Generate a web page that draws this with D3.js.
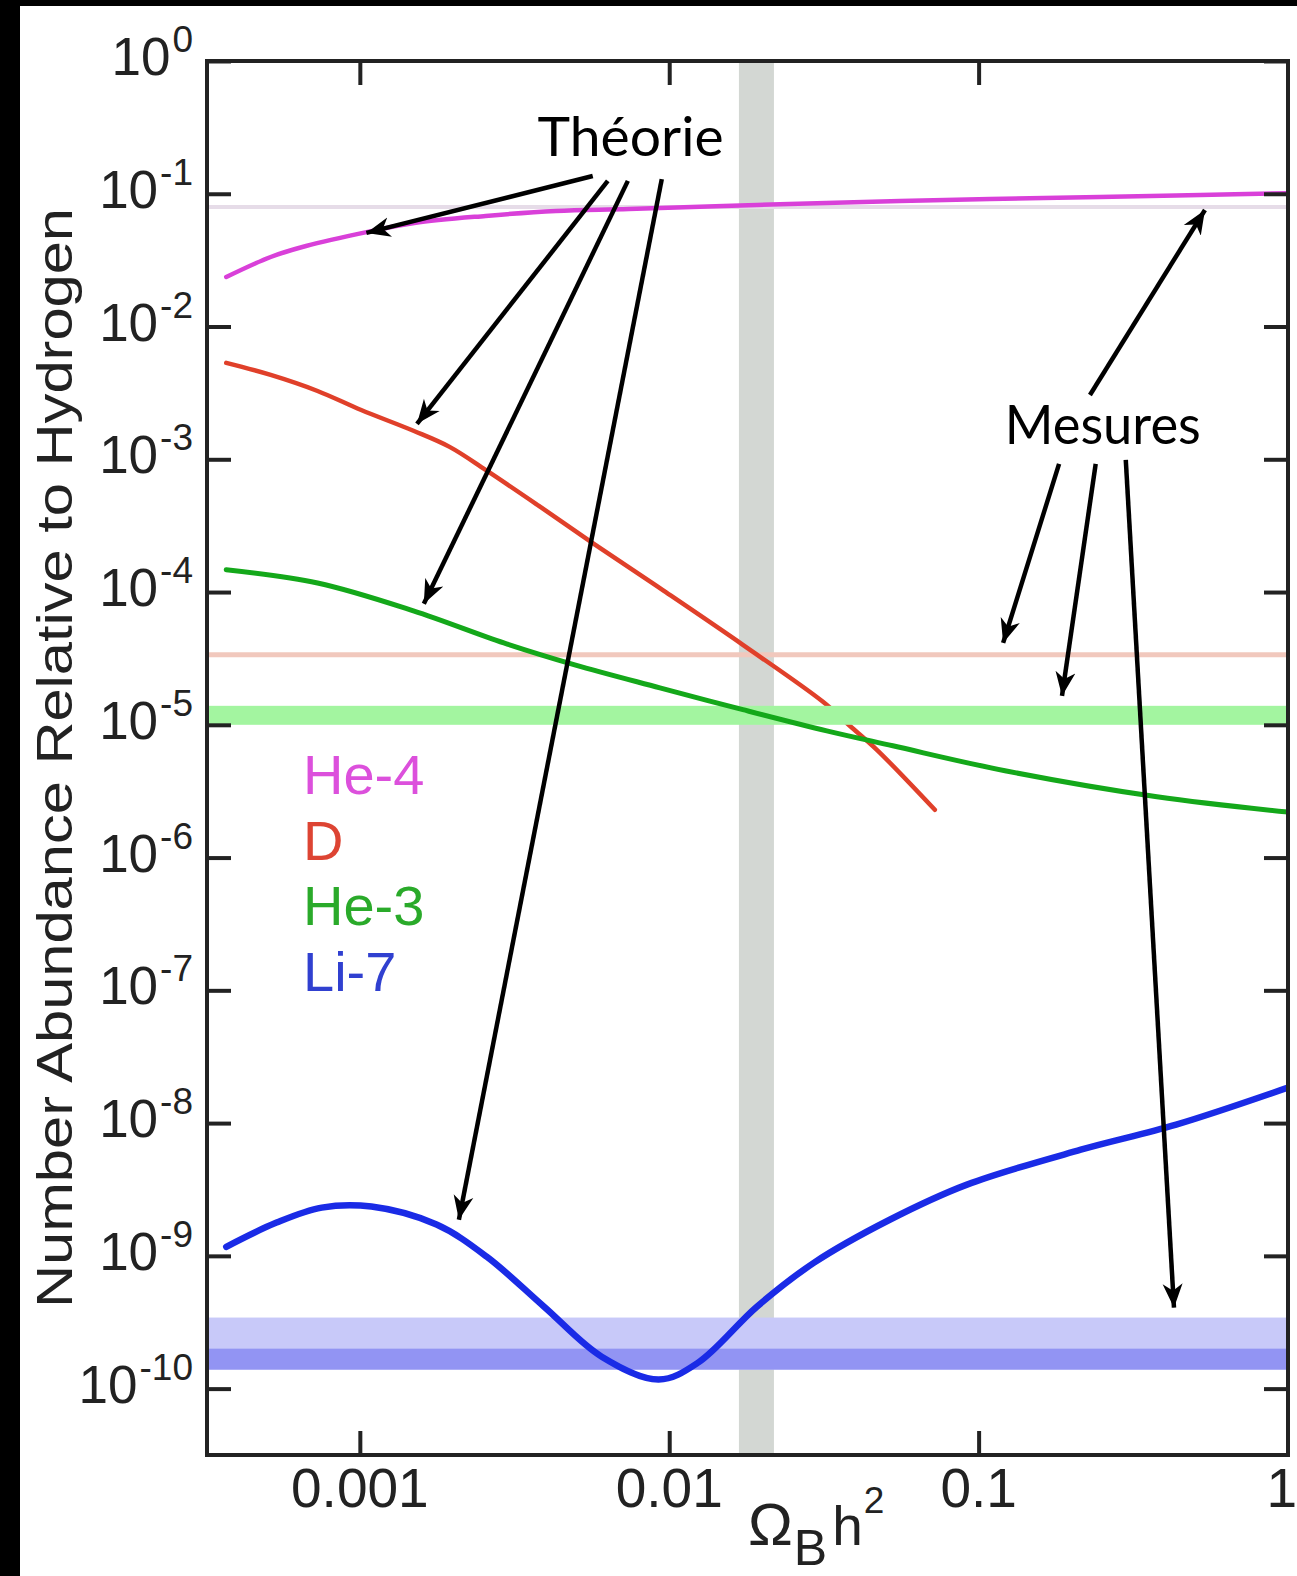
<!DOCTYPE html>
<html>
<head>
<meta charset="utf-8">
<script src="https://cdn.jsdelivr.net/npm/d3@7"></script>
<style>
  html, body { margin: 0; padding: 0; background: #000; }
  svg { display: block; }
</style>
</head>
<body>
<svg id="chart" width="1297" height="1576"></svg>
<script>
// ---------- DATA ----------
const he4X = [3.7e-4, 5.15e-4, 6.7e-4, 1.06e-3, 1.5e-3, 2.55e-3, 4.3e-3, 7.4e-3, 0.0192, 0.0557, 0.246, 0.52, 1.0];
const he4Y = [0.0236, 0.0334, 0.0404, 0.0516, 0.0603, 0.0681, 0.0742, 0.0768, 0.0823, 0.0883, 0.0946, 0.098, 0.101];

const dX = [3.7e-4, 5.15e-4, 7.3e-4, 1.01e-3, 1.49e-3, 1.95e-3, 2.55e-3, 3.79e-3, 5.66e-3, 9.61e-3, 0.0173, 0.0314, 0.0384, 0.0469, 0.0722];
const dY = [5.32e-3, 4.32e-3, 3.27e-3, 2.35e-3, 1.64e-3, 1.24e-3, 8.32e-4, 4.46e-4, 2.34e-4, 1.02e-4, 4.0e-5, 1.49e-5, 9.8e-6, 6.48e-6, 2.29e-6];

const he3X = [3.7e-4, 7.3e-4, 1.49e-3, 2.92e-3, 4.95e-3, 9.33e-3, 0.0173, 0.0323, 0.0528, 0.1217, 0.377, 1.0];
const he3Y = [1.47e-4, 1.17e-4, 7.22e-5, 4.14e-5, 2.83e-5, 1.90e-5, 1.30e-5, 9.0e-6, 6.95e-6, 4.51e-6, 2.87e-6, 2.2e-6];

const li7X = [3.7e-4, 5.38e-4, 7.53e-4, 1.09e-3, 1.77e-3, 2.57e-3, 3.94e-3, 6.05e-3, 9.25e-3, 0.0124, 0.0192, 0.0294, 0.0516, 0.0917, 0.214, 0.435, 1.0];
const li7Y = [1.17e-9, 1.78e-9, 2.31e-9, 2.35e-9, 1.72e-9, 9.86e-10, 4.14e-10, 1.74e-10, 1.17e-10, 1.57e-10, 4.14e-10, 8.89e-10, 1.87e-9, 3.44e-9, 6.3e-9, 9.73e-9, 1.85e-8];

// measured values (horizontal lines / bands)
const he4Measured = 0.0796;
const dMeasured = 3.37e-5;
const he3Band = [1.0e-5, 1.39e-5];
const li7BandWide = [1.39e-10, 3.43e-10];
const li7BandNarrow = [1.39e-10, 2.0e-10];
// baryon density band (Omega_B h^2)
const omegaBand = [0.0168, 0.0218];

// ticks
const xTicks = [0.001, 0.01, 0.1, 1];
const xTickLabels = ["0.001", "0.01", "0.1", "1"];
const yTickExp = [0, -1, -2, -3, -4, -5, -6, -7, -8, -9, -10];

const legendNames = ["He-4", "D", "He-3", "Li-7"];

// annotations (data coordinates)
const theorieLabel = { text: "Théorie", x: 7.5e-3, y: 0.193 };
const theorieArrows = [
  { x0: 5.66e-3, y0: 0.136, x1: 1.05e-3, y1: 0.0507 },
  { x0: 6.33e-3, y0: 0.125, x1: 1.53e-3, y1: 1.85e-3 },
  { x0: 7.35e-3, y0: 0.125, x1: 1.61e-3, y1: 8.15e-5 },
  { x0: 9.46e-3, y0: 0.129, x1: 2.09e-3, y1: 1.87e-9 }
];
const mesuresLabel = { text: "Mesures", x: 0.252, y: 1.31e-3 };
const mesuresArrows = [
  { x0: 0.229, y0: 3.05e-3, x1: 0.539, y1: 0.0755 },
  { x0: 0.182, y0: 9.23e-4, x1: 0.12, y1: 4.14e-5 },
  { x0: 0.239, y0: 9.23e-4, x1: 0.186, y1: 1.65e-5 },
  { x0: 0.299, y0: 9.89e-4, x1: 0.428, y1: 4.07e-10 }
];

// ---------- STYLE ----------
const colors = { he4: "#d940d9", d: "#e0402a", he3: "#14a81a", li7: "#1a2be6" };
const legendColors = ["#dc50dc", "#dd4433", "#2aaa2a", "#3040d0"];

const W = 1297, H = 1576;
const plot = { left: 207, right: 1288, top: 61, bottom: 1455 };

const svg = d3.select("#chart");

// background: black strip left/top, white rest
svg.append("rect").attr("x", 0).attr("y", 0).attr("width", W).attr("height", H).attr("fill", "#000");
svg.append("rect").attr("x", 20).attr("y", 6).attr("width", W - 20).attr("height", H - 6).attr("fill", "#fff");

const x = d3.scaleLog().domain([Math.pow(10, -3.494), 1]).range([plot.left, plot.right]);
const y = d3.scaleLog().domain([Math.pow(10, -10.5), 1]).range([plot.bottom, plot.top]);

const g = svg.append("g");
const clip = svg.append("clipPath").attr("id", "plotclip");
clip.append("rect").attr("x", plot.left).attr("y", plot.top)
  .attr("width", plot.right - plot.left).attr("height", plot.bottom - plot.top);
const pg = g.append("g").attr("clip-path", "url(#plotclip)");

// gray vertical band
pg.append("rect")
  .attr("x", x(omegaBand[0])).attr("width", x(omegaBand[1]) - x(omegaBand[0]))
  .attr("y", plot.top).attr("height", plot.bottom - plot.top)
  .attr("fill", "#d3d7d3");

// He-4 measured line
pg.append("line").attr("x1", plot.left).attr("x2", plot.right)
  .attr("y1", y(he4Measured)).attr("y2", y(he4Measured))
  .attr("stroke", "#e6dce8").attr("stroke-width", 4);

// D measured line
pg.append("line").attr("x1", plot.left).attr("x2", plot.right)
  .attr("y1", y(dMeasured)).attr("y2", y(dMeasured))
  .attr("stroke", "#f1c8bd").attr("stroke-width", 5);

const line = d3.line().x(d => x(d[0])).y(d => y(d[1])).curve(d3.curveCatmullRom.alpha(0.5));
const zip = (a, b) => a.map((v, i) => [v, b[i]]);

// D curve (under He-3 band)
pg.append("path").datum(zip(dX, dY)).attr("d", line)
  .attr("fill", "none").attr("stroke", colors.d).attr("stroke-width", 4.5)
  .attr("stroke-linecap", "round");

// He-3 band
pg.append("rect").attr("x", plot.left).attr("width", plot.right - plot.left)
  .attr("y", y(he3Band[1])).attr("height", y(he3Band[0]) - y(he3Band[1]))
  .attr("fill", "#a3f5a0");

// He-3 curve
pg.append("path").datum(zip(he3X, he3Y)).attr("d", line)
  .attr("fill", "none").attr("stroke", colors.he3).attr("stroke-width", 5)
  .attr("stroke-linecap", "round");

// Li-7 bands
pg.append("rect").attr("x", plot.left).attr("width", plot.right - plot.left)
  .attr("y", y(li7BandWide[1])).attr("height", y(li7BandWide[0]) - y(li7BandWide[1]))
  .attr("fill", "#c8c9f9");
pg.append("rect").attr("x", plot.left).attr("width", plot.right - plot.left)
  .attr("y", y(li7BandNarrow[1])).attr("height", y(li7BandNarrow[0]) - y(li7BandNarrow[1]))
  .attr("fill", "#9294f3");

// Li-7 curve
pg.append("path").datum(zip(li7X, li7Y)).attr("d", line)
  .attr("fill", "none").attr("stroke", colors.li7).attr("stroke-width", 6.5)
  .attr("stroke-linecap", "round");

// He-4 curve
pg.append("path").datum(zip(he4X, he4Y)).attr("d", line)
  .attr("fill", "none").attr("stroke", colors.he4).attr("stroke-width", 4.5)
  .attr("stroke-linecap", "round");

// ---------- AXES ----------
const axisColor = "#222";
const tickLen = 24;
const yTickVals = yTickExp.map(e => Math.pow(10, e));

function styleAxis(sel) {
  sel.select(".domain").remove();
  sel.selectAll(".tick line").attr("stroke", axisColor).attr("stroke-width", 4);
  sel.selectAll(".tick text").remove();
}
g.append("g").attr("transform", `translate(${plot.left},0)`)
  .call(d3.axisLeft(y).tickValues(yTickVals).tickSize(-tickLen).tickFormat(""))
  .call(styleAxis);
g.append("g").attr("transform", `translate(${plot.right},0)`)
  .call(d3.axisRight(y).tickValues(yTickVals).tickSize(-tickLen).tickFormat(""))
  .call(styleAxis);
g.append("g").attr("transform", `translate(0,${plot.bottom})`)
  .call(d3.axisBottom(x).tickValues(xTicks.slice(0, 3)).tickSize(-tickLen).tickFormat(""))
  .call(styleAxis);
g.append("g").attr("transform", `translate(0,${plot.top})`)
  .call(d3.axisTop(x).tickValues(xTicks.slice(0, 3)).tickSize(-tickLen).tickFormat(""))
  .call(styleAxis);

// frame
g.append("rect").attr("x", plot.left).attr("y", plot.top)
  .attr("width", plot.right - plot.left).attr("height", plot.bottom - plot.top)
  .attr("fill", "none").attr("stroke", axisColor).attr("stroke-width", 4);

const font = "'Liberation Sans', Arial, Helvetica, sans-serif";

// y tick labels
yTickExp.forEach(e => {
  const t = g.append("text")
    .attr("x", 193).attr("y", y(Math.pow(10, e)) + 14)
    .attr("text-anchor", "end").attr("font-family", font)
    .attr("fill", "#222");
  t.append("tspan").attr("font-size", 53).text("10");
  t.append("tspan").attr("font-size", 37).attr("dy", -23).attr("dx", 2).text(e === 0 ? "0" : "-" + Math.abs(e));
});

// x tick labels (last one kept inside the picture)
xTicks.forEach((v, i) => {
  const last = i === xTicks.length - 1;
  g.append("text").attr("x", last ? 1297 : x(v)).attr("y", 1507)
    .attr("text-anchor", last ? "end" : "middle").attr("font-family", font)
    .attr("font-size", 55).attr("fill", "#222").text(xTickLabels[i]);
});

// x axis title  Ω_B h^2
const xt = g.append("text").attr("x", 748).attr("y", 1545)
  .attr("font-family", font).attr("fill", "#222");
xt.append("tspan").attr("font-size", 60).text("Ω");
xt.append("tspan").attr("font-size", 50).attr("dy", 20).attr("dx", 1).text("B");
xt.append("tspan").attr("font-size", 55).attr("dy", -20).attr("dx", 5).text("h");
xt.append("tspan").attr("font-size", 37).attr("dy", -32).attr("dx", 1).text("2");

// y axis title
g.append("text")
  .attr("transform", `translate(72,758) rotate(-90)`)
  .attr("text-anchor", "middle").attr("font-family", font)
  .attr("font-size", 50).attr("fill", "#222")
  .attr("textLength", 1100).attr("lengthAdjust", "spacingAndGlyphs")
  .text("Number Abundance Relative to Hydrogen");

// legend
legendNames.forEach((n, i) => {
  g.append("text").attr("x", 303).attr("y", 794 + i * 65.5)
    .attr("font-family", font).attr("font-size", 56)
    .attr("fill", legendColors[i]).text(n);
});

// ---------- ANNOTATIONS ----------
const defs = svg.append("defs");
defs.append("marker").attr("id", "arrowhead")
  .attr("viewBox", "-24 -11 26 22").attr("refX", 0).attr("refY", 0)
  .attr("markerWidth", 26).attr("markerHeight", 22)
  .attr("markerUnits", "userSpaceOnUse").attr("orient", "auto")
  .append("path").attr("d", "M0,0 L-24,-10 L-17,0 L-24,10 Z").attr("fill", "#000");

const annFont = "Lato, 'Open Sans', sans-serif";
function drawArrows(list) {
  list.forEach(a => {
    g.append("line")
      .attr("x1", x(a.x0)).attr("y1", y(a.y0))
      .attr("x2", x(a.x1)).attr("y2", y(a.y1))
      .attr("stroke", "#000").attr("stroke-width", 4.5)
      .attr("marker-end", "url(#arrowhead)");
  });
}
drawArrows(theorieArrows);
drawArrows(mesuresArrows);

[theorieLabel, mesuresLabel].forEach((l, i) => {
  g.append("text").attr("x", x(l.x)).attr("y", y(l.y))
    .attr("text-anchor", "middle").attr("font-family", annFont)
    .attr("font-size", 54).attr("fill", "#000")
    .attr("textLength", i === 0 ? 186 : 196).attr("lengthAdjust", "spacingAndGlyphs")
    .text(l.text);
});
</script>
</body>
</html>
